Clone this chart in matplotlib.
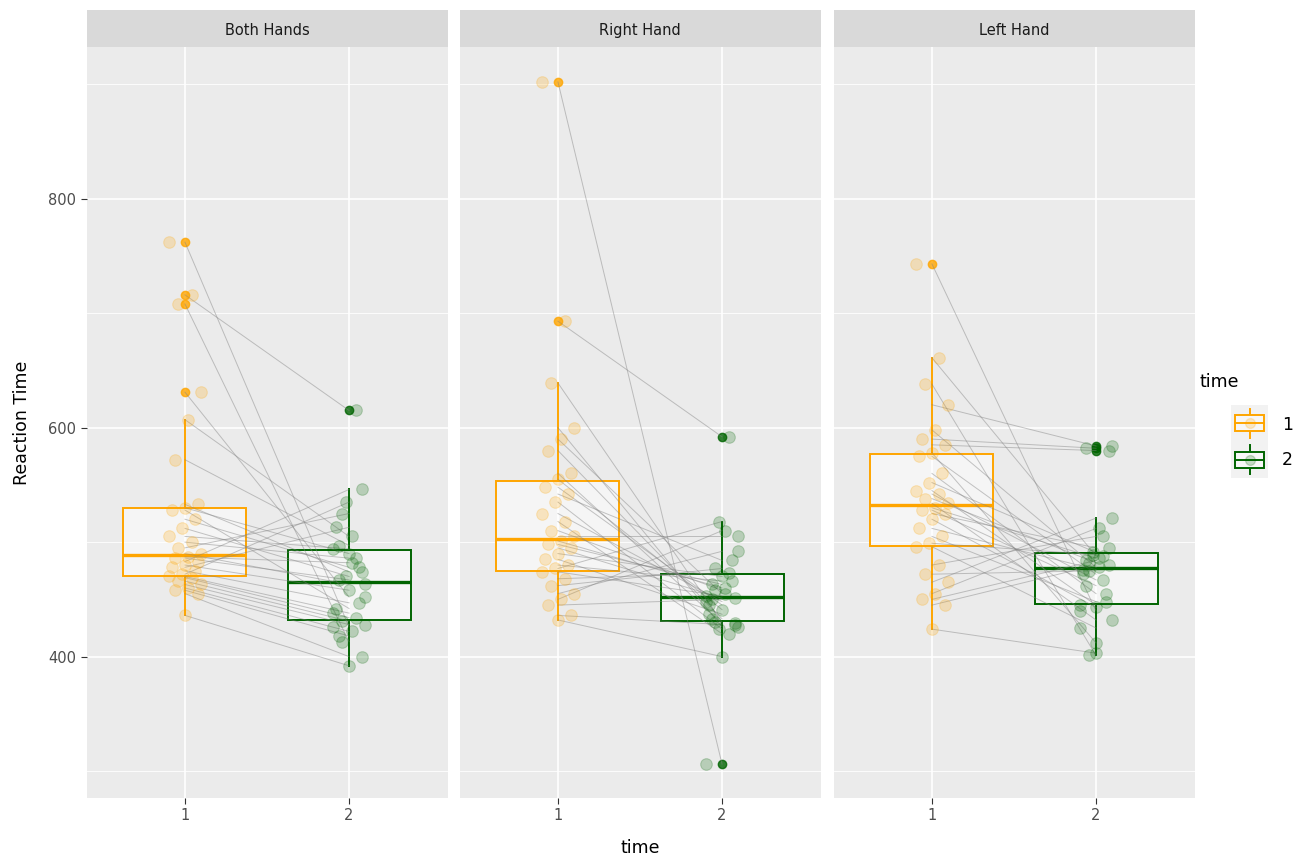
import numpy as np
import matplotlib
matplotlib.use("Agg")
import matplotlib.pyplot as plt

# facets
hands = ["Both Hands", "Right Hand", "Left Hand"]

# reaction times, one entry per subject (paired: time 1 -> time 2)
both_t1 = [762, 716, 708, 631, 607, 572, 533, 530, 528, 520, 512, 505, 500, 495, 490,
           487, 486, 483, 480, 478, 475, 472, 470, 469, 466, 463, 460, 458, 455, 436]
both_t2 = [426, 615, 413, 452, 505, 497, 474, 490, 442, 478, 470, 494, 486, 525, 463,
           482, 467, 546, 458, 513, 447, 535, 438, 434, 431, 428, 422, 418, 400, 392]

right_t1 = [902, 693, 639, 600, 590, 580, 560, 555, 548, 542, 535, 525, 518, 510, 505,
            501, 498, 495, 490, 485, 480, 477, 474, 468, 462, 455, 450, 445, 436, 432]
right_t2 = [306, 592, 430, 426, 455, 433, 429, 441, 445, 484, 424, 448, 420, 458, 505,
            460, 463, 451, 470, 437, 466, 518, 453, 473, 477, 492, 510, 450, 428, 400]

left_t1 = [743, 661, 638, 620, 598, 590, 585, 578, 575, 560, 552, 545, 542, 538, 534,
           530, 528, 525, 520, 512, 505, 499, 496, 480, 472, 465, 455, 450, 445, 424]
left_t2 = [440, 488, 401, 584, 478, 582, 580, 412, 472, 455, 491, 445, 467, 482, 432,
           486, 462, 495, 443, 476, 448, 489, 425, 505, 475, 521, 512, 484, 480, 403]

data = {
    "Both Hands": (both_t1, both_t2),
    "Right Hand": (right_t1, right_t2),
    "Left Hand": (left_t1, left_t2),
}
time_levels = ["1", "2"]
colors = ["#FFA500", "#006400"]

W, H = 1301, 858
BG = "#EBEBEB"


def px(x0, y0, x1, y1):
    # pixel box -> figure fraction rect
    return [x0 / W, 1 - y1 / H, (x1 - x0) / W, (y1 - y0) / H]


fig = plt.figure(figsize=(W / 100, H / 100), dpi=100)
fig.patch.set_facecolor("white")

panels = [(86.5, 447.5), (459.5, 820.5), (833.5, 1194.5)]
n = len(both_t1)
jit = np.array([((i * 7) % 11 - 5) / 5 * 0.1 for i in range(n)])

for k, (hand, (x0, x1)) in enumerate(zip(hands, panels)):
    ax = fig.add_axes(px(x0, 47, x1, 798))
    ax.set_facecolor(BG)
    t1, t2 = data[hand]

    # boxplots
    for j, vals in enumerate([t1, t2]):
        c = colors[j]
        ax.boxplot(vals, positions=[j + 1], widths=0.75, whis=1.5, patch_artist=True,
                   showcaps=False, manage_ticks=False,
                   boxprops=dict(facecolor=(1, 1, 1, 0.55), edgecolor=c, linewidth=1.4),
                   medianprops=dict(color=c, linewidth=2.4),
                   whiskerprops=dict(color=c, linewidth=1.4),
                   flierprops=dict(marker="o", markersize=6, markerfacecolor=c,
                                   markeredgecolor=c, alpha=0.8),
                   zorder=2)

    # paired lines
    for a, b in zip(t1, t2):
        ax.plot([1, 2], [a, b], color="#808080", alpha=0.45, linewidth=0.7, zorder=3)

    # jittered points
    for j, vals in enumerate([t1, t2]):
        ax.scatter(j + 1 + jit, vals, s=70, color=colors[j], alpha=0.22,
                   edgecolors=colors[j], linewidths=0.8, zorder=4)

    ax.set_xlim(0.4, 2.6)
    ax.set_ylim(276.5, 932.5)
    ax.set_xticks([1, 2])
    ax.set_xticklabels(time_levels)
    ax.set_yticks([400, 600, 800])
    ax.set_yticks([300, 500, 700, 900], minor=True)
    ax.grid(True, which="major", color="white", linewidth=1.2, zorder=0)
    ax.grid(True, which="minor", axis="y", color="white", linewidth=0.6, zorder=0)
    ax.set_axisbelow(True)
    for s in ax.spines.values():
        s.set_visible(False)
    ax.tick_params(axis="both", which="major", length=4, color="#333333",
                   labelcolor="#4D4D4D", labelsize=10.5)
    ax.tick_params(axis="y", which="minor", length=0)
    if k > 0:
        ax.tick_params(axis="y", length=0, labelleft=False)

    # strip
    sx = fig.add_axes(px(x0, 10, x1, 47))
    sx.set_facecolor("#D9D9D9")
    sx.set_xticks([])
    sx.set_yticks([])
    for s in sx.spines.values():
        s.set_visible(False)
    sx.text(0.5, 0.45, hand, ha="center", va="center", fontsize=10.5,
            color="#1A1A1A", transform=sx.transAxes)

fig.text(22 / W, 1 - 423 / H, "Reaction Time", rotation=90, ha="center", va="center",
         fontsize=12.5, color="black")
fig.text(640 / W, 1 - 848 / H, "time", ha="center", va="center", fontsize=12.5,
         color="black")

# legend
fig.text(1200 / W, 1 - 382 / H, "time", ha="left", va="center", fontsize=12.5)
lg = fig.add_axes(px(1231, 405, 1268, 478))
lg.set_facecolor("#F2F2F2")
lg.set_xlim(0, 1)
lg.set_ylim(0, 2)
lg.set_xticks([])
lg.set_yticks([])
for s in lg.spines.values():
    s.set_visible(False)
for j, c in enumerate(colors):
    yc = 1.5 - j
    lg.plot([0.5, 0.5], [yc - 0.4, yc + 0.4], color=c, linewidth=1.4)
    lg.add_patch(plt.Rectangle((0.1, yc - 0.22), 0.8, 0.44, facecolor="#F7F7F7",
                               edgecolor=c, linewidth=1.4, zorder=3))
    lg.plot([0.1, 0.9], [yc, yc], color=c, linewidth=1.4, zorder=4)
    lg.scatter([0.5], [yc], s=50, color=c, alpha=0.2, zorder=5)
    fig.text(1282 / W, 1 - (425 + j * 35) / H, time_levels[j], ha="left", va="center",
             fontsize=12.5)

fig.savefig("out.png", dpi=100)
